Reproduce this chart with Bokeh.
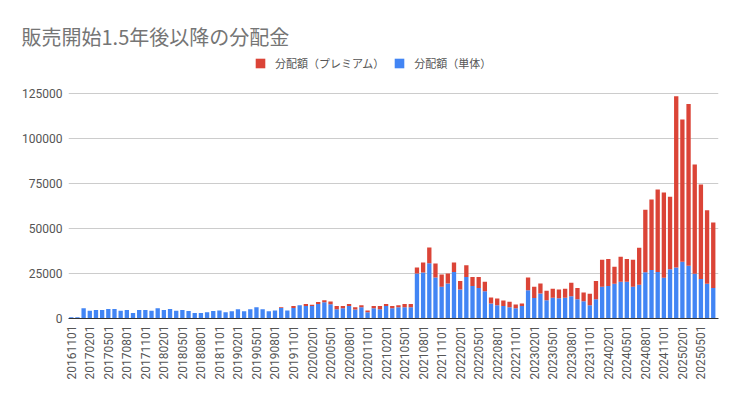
import math
from bokeh.plotting import figure
from bokeh.models import (ColumnDataSource, FixedTicker, Range1d, Legend, LegendItem,
                          BasicTickFormatter)
from bokeh.embed import file_html
from bokeh.resources import INLINE

# Months (categories) 2016-11 .. 2025-07
months = []
yy, mm = 2016, 11
for _ in range(105):
    months.append(f"{yy}{mm:02d}01")
    mm += 1
    if mm > 12:
        mm = 1
        yy += 1

single = [700, 700, 5700, 4300, 4700, 4700, 5300, 5300, 4300, 4700,
          3100, 4700, 4700, 4300, 5700, 4700, 5300, 4300, 4700, 4100,
          3000, 3000, 3500, 4100, 4500, 3500, 4000, 5100, 4000, 5100,
          6300, 5100, 4000, 4500, 5800, 4500, 5800, 7400, 7000, 7000,
          8100, 9000, 7900, 5200, 5700, 6900, 5000, 6300, 3500, 5700,
          5200, 6900, 5700, 6300, 6300, 6300, 25000, 25600, 30700, 22800,
          17700, 19400, 25900, 16100, 23100, 18000, 17000, 15200, 8300, 7400,
          6900, 6300, 5700, 6900, 15700, 11400, 13900, 10200, 11500, 11300,
          11500, 12400, 10700, 9600, 7400, 10700, 17600, 18000, 19300, 20400,
          20400, 17600, 18700, 25700, 26900, 25900, 22600, 27400, 28300, 31500,
          29300, 24800, 21900, 19300, 17000]

premium = [0, 0, 0, 0, 0, 0, 0, 0, 0, 0,
           0, 0, 0, 0, 0, 0, 0, 0, 0, 0,
           0, 0, 0, 0, 0, 0, 0, 0, 0, 0,
           0, 0, 0, 0, 500, 0, 1200, 0, 1000, 600,
           1000, 1100, 1600, 1700, 1200, 1100, 1300, 1100, 900, 1200,
           1700, 1100, 1200, 1100, 1700, 1700, 3300, 5500, 8700, 7800,
           6700, 5600, 5200, 4800, 6500, 5100, 6100, 5200, 3400, 3700,
           3100, 3000, 2100, 1400, 7100, 6200, 5500, 5200, 5000, 4800,
           5000, 7400, 6300, 4800, 6300, 10200, 15000, 15100, 9400, 13900,
           12700, 15000, 20600, 34700, 39200, 45800, 47400, 40200, 95200, 79100,
           89800, 60800, 52500, 40900, 36300]

y_ticks = [0, 25000, 50000, 75000, 100000, 125000]
title_text = "販売開始1.5年後以降の分配金"
label_premium = "分配額（プレミアム）"
label_single = "分配額（単体）"

idx = list(range(len(months)))
source = ColumnDataSource(dict(x=idx, single=single, premium=premium))

BLUE = "#4285F4"
RED = "#DB4437"
FONT = "Roboto, Noto Sans CJK JP"

p = figure(width=722, height=384, output_backend="svg", toolbar_location=None,
           x_range=Range1d(-0.45, 104.85), y_range=Range1d(0, 146100),
           min_border_left=68, min_border_right=4, min_border_top=55,
           min_border_bottom=66)

p.title.text = title_text
p.title.text_font = "Noto Sans CJK JP"
p.title.text_font_size = "20px"
p.title.text_font_style = "normal"
p.title.text_color = "#757575"
p.title.align = "left"
p.title.offset = -47
p.title.standoff = 10

r = p.vbar_stack(["single", "premium"], x="x", width=0.7, source=source,
                 color=[BLUE, RED], line_color=None)

legend = Legend(items=[LegendItem(label=label_premium, renderers=[r[1]]),
                       LegendItem(label=label_single, renderers=[r[0]])],
                orientation="horizontal", location=(186, 247))
legend.background_fill_alpha = 0
legend.border_line_color = None
legend.padding = 0
legend.margin = 0
legend.spacing = 9
legend.glyph_width = 12
legend.glyph_height = 12
legend.label_height = 12
legend.label_standoff = 9
legend.label_text_font = FONT
legend.label_text_font_size = "11px"
legend.label_text_color = "#555555"
legend.label_text_baseline = "middle"
p.add_layout(legend, "center")

# axes
p.xaxis.ticker = FixedTicker(ticks=list(range(0, len(months), 3)))
p.xaxis.major_label_overrides = {i: months[i] for i in range(0, len(months), 3)}
p.xaxis.major_label_orientation = math.pi / 2
p.xaxis.major_tick_line_color = None
p.xaxis.minor_tick_line_color = None
p.xaxis.major_tick_out = 0
p.xaxis.minor_tick_out = 0
p.xaxis.major_label_standoff = 7
p.xaxis.axis_line_color = "#333333"
p.xaxis.major_label_text_font = FONT
p.xaxis.major_label_text_font_size = "12px"
p.xaxis.major_label_text_color = "#555555"

p.yaxis.ticker = FixedTicker(ticks=y_ticks)
p.yaxis.formatter = BasicTickFormatter(use_scientific=False)
p.yaxis.axis_line_color = None
p.yaxis.major_tick_line_color = None
p.yaxis.minor_tick_line_color = None
p.yaxis.major_tick_out = 0
p.yaxis.minor_tick_out = 0
p.yaxis.major_label_standoff = 6
p.yaxis.major_label_text_font = FONT
p.yaxis.major_label_text_font_size = "12px"
p.yaxis.major_label_text_color = "#555555"

p.xgrid.grid_line_color = None
p.ygrid.grid_line_color = "#cccccc"
p.ygrid.ticker = FixedTicker(ticks=y_ticks)
p.outline_line_color = None

open("out.html", "w").write(file_html(p, INLINE))
